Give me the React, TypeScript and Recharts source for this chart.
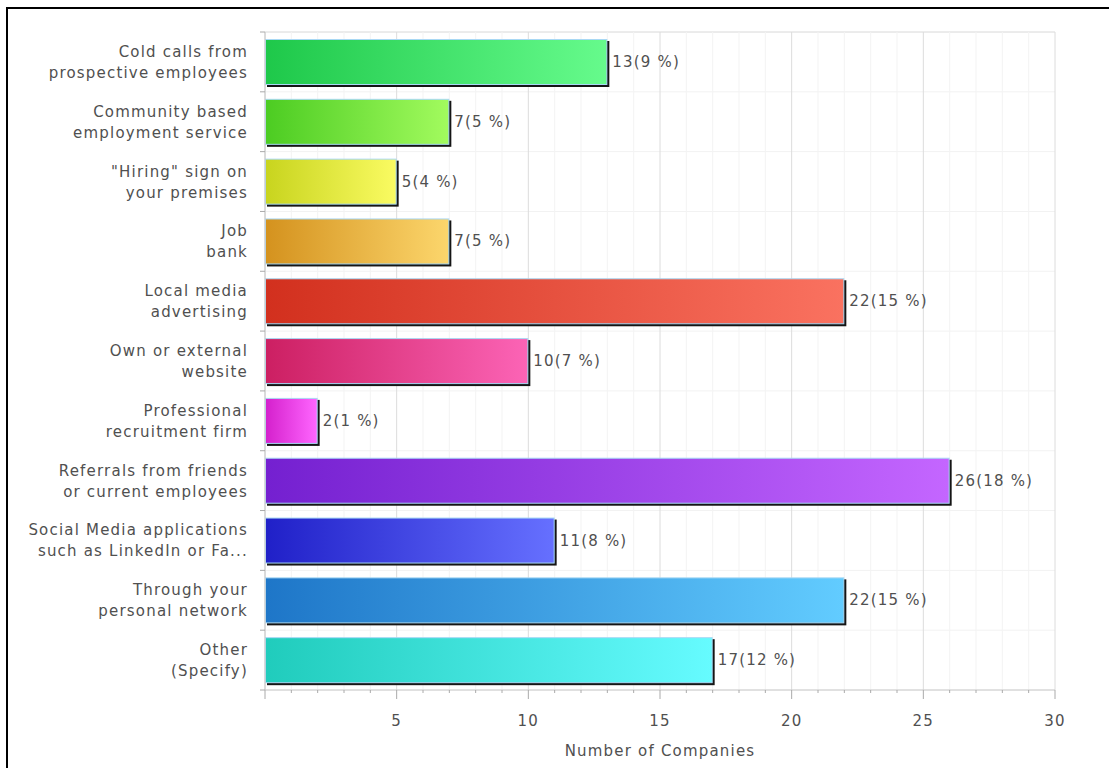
import { BarChart, Bar, XAxis, YAxis, CartesianGrid, LabelList, Cell } from 'recharts'

const categories = [
  'Cold calls from\nprospective employees',
  'Community based\nemployment service',
  '"Hiring" sign on\nyour premises',
  'Job\nbank',
  'Local media\nadvertising',
  'Own or external\nwebsite',
  'Professional\nrecruitment firm',
  'Referrals from friends\nor current employees',
  'Social Media applications\nsuch as LinkedIn or Fa...',
  'Through your\npersonal network',
  'Other\n(Specify)',
]
const counts = [13, 7, 5, 7, 22, 10, 2, 26, 11, 22, 17]
const percents = [9, 5, 4, 5, 15, 7, 1, 18, 8, 15, 12]
const xTicks = [0, 1, 2, 3, 4, 5, 6, 7, 8, 9, 10, 11, 12, 13, 14, 15, 16, 17, 18, 19, 20, 21, 22, 23, 24, 25, 26, 27, 28, 29, 30]
const barColors = [
  ['#1ec84a', '#66fb8c'],
  ['#4ccc22', '#a2fb5e'],
  ['#c8d41e', '#fafb62'],
  ['#d4921e', '#fcd66c'],
  ['#d2301e', '#fa7260'],
  ['#cc1f62', '#fc64b6'],
  ['#d420cc', '#ff66ff'],
  ['#7420d0', '#c466ff'],
  ['#2020c8', '#6670ff'],
  ['#1e76c8', '#62ccff'],
  ['#20ccbc', '#66fbff'],
]

const data = categories.map((name, i) => ({
  name,
  count: counts[i],
  label: `${counts[i]}(${percents[i]} %)`,
}))

const W = 1109
const H = 768
const margin = { top: 32, right: 54, bottom: 18, left: 10 }
const X_AXIS_H = 60
const Y_AXIS_W = 255
const AXIS_X = margin.left + Y_AXIS_W
const PLOT_H = H - margin.top - margin.bottom - X_AXIS_H
const BAND = PLOT_H / categories.length

const font = {
  fontFamily: '"DejaVu Sans", sans-serif',
  fontSize: 15,
  letterSpacing: 1.2,
  fill: '#505050',
}

const BarShape = (p: any) => {
  const { x, y, width, height, fill } = p
  if (!width || width <= 0) return null
  return (
    <g>
      <rect x={x + 2} y={y + 2} width={width} height={height} fill="#151515" />
      <rect
        x={x + 0.5}
        y={y + 0.5}
        width={width - 1}
        height={height - 1}
        fill={fill}
        stroke="#a8d8f4"
        strokeWidth={1}
      />
    </g>
  )
}

const YTick = (p: any) => {
  const { y, payload, index } = p
  const lines = String(payload.value).split('\n')
  const tx = AXIS_X - 17
  const top = y - BAND / 2
  return (
    <g>
      <line x1={AXIS_X - 5} x2={AXIS_X} y1={top} y2={top} stroke="#aaa" />
      {index === categories.length - 1 && (
        <line x1={AXIS_X - 5} x2={AXIS_X} y1={y + BAND / 2} y2={y + BAND / 2} stroke="#aaa" />
      )}
      <text textAnchor="end" style={font as any}>
        {lines.map((l, i) => (
          <tspan key={i} x={tx} y={y - 5 + i * 21}>
            {l}
          </tspan>
        ))}
      </text>
    </g>
  )
}

const XTick = (p: any) => {
  const { x, y, payload } = p
  const v = payload.value
  const major = v % 5 === 0
  return (
    <g>
      <line x1={x} x2={x} y1={y} y2={y + (major ? 9 : 3)} stroke="#aaa" />
      {major && v !== 0 && (
        <text x={x} y={y + 36} textAnchor="middle" style={font as any}>
          {v}
        </text>
      )}
    </g>
  )
}

const BarLabel = (p: any) => {
  const vb = p.viewBox || p
  const x = (vb.x ?? p.x) + (vb.width ?? p.width) + 5
  const y = (vb.y ?? p.y) + (vb.height ?? p.height) / 2
  return (
    <text x={x} y={y + 5} style={font as any}>
      {p.value}
    </text>
  )
}

const AxisTitle = (p: any) => {
  const vb = p.viewBox
  return (
    <text x={vb.x + vb.width / 2} y={vb.y + 66} textAnchor="middle" style={font as any}>
      Number of Companies
    </text>
  )
}

export default function App() {
  return (
    <div style={{ position: 'absolute', left: 0, top: 0, width: W, height: H, overflow: 'hidden', background: '#fff' }}>
      <div
        style={{
          position: 'absolute',
          left: 6,
          top: 7,
          width: 1300,
          height: 900,
          border: '2px solid #000',
          boxSizing: 'border-box',
        }}
      />
      <div style={{ position: 'absolute', left: 0, top: 0 }}>
        <BarChart width={W} height={H} data={data} layout="vertical" margin={margin}>
          <defs>
            {barColors.map(([a, b], i) => (
              <linearGradient key={i} id={`barGrad${i}`} x1="0" y1="0" x2="1" y2="0">
                <stop offset="0%" stopColor={a} />
                <stop offset="100%" stopColor={b} />
              </linearGradient>
            ))}
          </defs>
          <CartesianGrid
            stroke="#eee"
            horizontalCoordinatesGenerator={({ offset }: any) =>
              categories.map((_, i) => offset.top + (i * offset.height) / categories.length).concat([offset.top + offset.height])
            }
            horizontal={(lp: any) => (
              <line
                key={lp.key}
                x1={lp.x1}
                y1={lp.y1}
                x2={lp.x2}
                y2={lp.y2}
                stroke={lp.index === 0 ? '#d8d8d8' : '#f2f2f2'}
              />
            )}
            vertical={(lp: any) => (
              <line
                key={lp.key}
                x1={lp.x1}
                y1={lp.y1}
                x2={lp.x2}
                y2={lp.y2}
                stroke={lp.index % 5 === 0 ? '#dcdcdc' : '#f3f3f3'}
              />
            )}
          />
          <XAxis
            type="number"
            domain={[0, 30]}
            ticks={xTicks}
            interval={0}
            height={X_AXIS_H}
            tickSize={0}
            tickMargin={0}
            tickLine={false}
            axisLine={{ stroke: '#c8c8c8' }}
            tick={<XTick />}
            label={<AxisTitleLabel />}
          />
          <YAxis
            type="category"
            dataKey="name"
            width={Y_AXIS_W}
            tickLine={false}
            axisLine={{ stroke: '#c8c8c8' }}
            tick={<YTick />}
            interval={0}
          />
          <Bar dataKey="count" barSize={46} isAnimationActive={false} shape={<BarShape />}>
            {data.map((_, i) => (
              <Cell key={i} fill={`url(#barGrad${i})`} />
            ))}
            <LabelList dataKey="label" content={<BarLabel />} />
          </Bar>
        </BarChart>
      </div>
    </div>
  )
}

const AxisTitleLabel = (p: any) => <AxisTitle {...p} />
